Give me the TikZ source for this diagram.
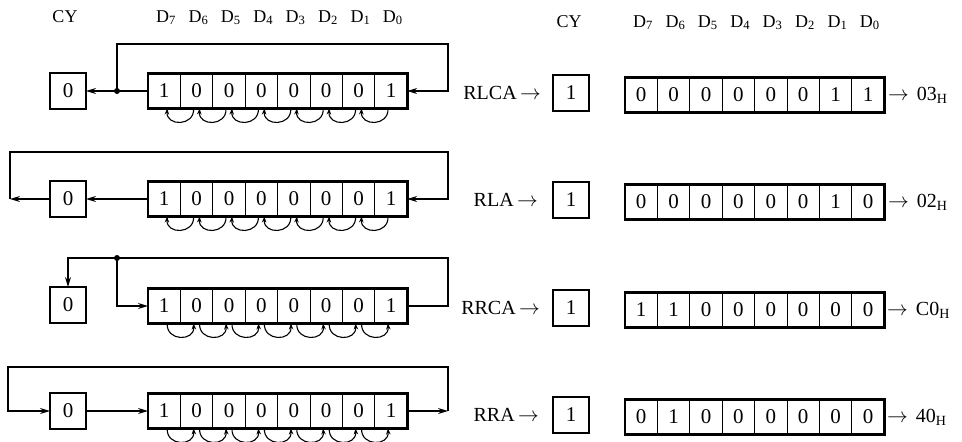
\documentclass[tikz,border=0pt]{standalone}
\usepackage{fontspec}
\setmainfont{Liberation Serif}
\usetikzlibrary{arrows.meta}
\tikzset{
  cell/.style={draw, line width=0.9pt, minimum width=32.4pt, minimum height=35pt,
    inner sep=0pt, outer sep=0pt, font=\fontsize{21}{21}\selectfont},
  regframe/.style={line width=2.6pt},
  cybox/.style={draw, line width=2.6pt, minimum width=36pt, minimum height=36pt,
    inner sep=0pt, outer sep=0pt, font=\fontsize{21}{21}\selectfont},
  conn/.style={line width=1.3pt},
  arr/.style={conn, -{Stealth[length=10pt,width=6pt]}},
  sarc/.style={line width=1.1pt, -{Stealth[length=6pt,width=4.5pt]}},
  hdr/.style={font=\fontsize{18}{18}\selectfont, anchor=base, inner sep=0pt},
  oplab/.style={font=\fontsize{20}{20}\selectfont, anchor=east, inner sep=0pt},
  outlab/.style={font=\fontsize{20}{20}\selectfont, anchor=west, inner sep=0pt},
  jdot/.style={circle, fill, inner sep=0pt, minimum size=6pt},
}
\newcommand\regrow[4]{%
  \foreach \b [count=\i from 0] in {#4} {
    \node[cell] (#1c\i) at ({#2+32.4*\i+16.2},#3) {\b};
  }
  \draw[regframe] (#1c0.north west) rectangle (#1c7.south east);
}
\newcommand\arcsleft[1]{%
  \foreach \k/\j in {1/0,2/1,3/2,4/3,5/4,6/5,7/6} {
    \draw[sarc] ([xshift=-3pt]#1c\k.south) .. controls +(1,18) and +(-1,18) .. ([xshift=3pt]#1c\j.south);
  }
}
\newcommand\arcsright[1]{%
  \foreach \k/\j in {1/0,2/1,3/2,4/3,5/4,6/5,7/6} {
    \draw[sarc] ([xshift=3pt]#1c\j.south) .. controls +(-1,18) and +(1,18) .. ([xshift=-3pt]#1c\k.south);
  }
}
\begin{document}
\begin{tikzpicture}[x=1pt,y=-1pt]
\useasboundingbox (0,0) rectangle (962,442);

% ---------- headers ----------
\node[hdr] (lcy) at (65,22) {CY};
\foreach \n [count=\i from 0] in {7,6,5,4,3,2,1,0} {
  \node[hdr] (lh\i) at ({148+32.4*\i+18},22) {D\textsubscript{\n}};
}
\node[hdr] (rcy) at (569,27) {CY};
\foreach \n [count=\i from 0] in {7,6,5,4,3,2,1,0} {
  \node[hdr] (rh\i) at ({625+32.4*\i+18},27) {D\textsubscript{\n}};
}

% ---------- left, row 1: RLCA ----------
\node[cybox] (L1y) at (68,91) {0};
\regrow{L1}{148}{91}{1,0,0,0,0,0,0,1}
\coordinate (j1) at (117,91);
\coordinate (t1) at (448,44);
\draw[arr] (L1c0.west) -- (L1y.east);
\draw[arr] (j1) |- (t1) |- (L1c7.east);
\node[jdot] (d1) at (j1) {};
\arcsleft{L1}

% ---------- left, row 2: RLA ----------
\node[cybox] (L2y) at (68,199) {0};
\regrow{L2}{148}{199}{1,0,0,0,0,0,0,1}
\coordinate (a2) at (10,199);
\coordinate (t2) at (448,152);
\draw[arr] (L2c0.west) -- (L2y.east);
\draw[arr] (L2y.west) -- (a2);
\draw[arr] (a2) |- (t2) |- (L2c7.east);
\arcsleft{L2}

% ---------- left, row 3: RRCA ----------
\node[cybox] (L3y) at (68,305) {0};
\regrow{L3}{148}{306}{1,0,0,0,0,0,0,1}
\coordinate (j3) at (117,258);
\coordinate (t3) at (448,258);
\draw[conn] (L3c7.east) -| (t3) -- (j3);
\draw[arr] (j3) -| (L3y.north);
\draw[arr] (j3) |- (L3c0.west);
\node[jdot] (d3) at (j3) {};
\arcsright{L3}

% ---------- left, row 4: RRA ----------
\node[cybox] (L4y) at (68,411) {0};
\regrow{L4}{148}{411}{1,0,0,0,0,0,0,1}
\coordinate (a4) at (448,411);
\coordinate (t4) at (8,367);
\draw[arr] (L4c7.east) -- (a4);
\draw[arr] (a4) |- (t4) |- (L4y.west);
\draw[arr] (L4y.east) -- (L4c0.west);
\arcsright{L4}

% ---------- right side results ----------
\node[oplab] (op1) at (541,93) {RLCA\,$\rightarrow$};
\node[cybox] (R1y) at (571,93) {1};
\regrow{R1}{625}{95}{0,0,0,0,0,0,1,1}
\node[outlab] (o1) at (888,95) {$\rightarrow$\hspace{8pt}03\textsubscript{H}};

\node[oplab] (op2) at (538,200) {RLA\,$\rightarrow$};
\node[cybox] (R2y) at (571,200) {1};
\regrow{R2}{625}{202}{0,0,0,0,0,0,1,0}
\node[outlab] (o2) at (888,202) {$\rightarrow$\hspace{8pt}02\textsubscript{H}};

\node[oplab] (op3) at (540,308) {RRCA\,$\rightarrow$};
\node[cybox] (R3y) at (571,308) {1};
\regrow{R3}{625}{310}{1,1,0,0,0,0,0,0}
\node[outlab] (o3) at (887,310) {$\rightarrow$\hspace{8pt}C0\textsubscript{H}};

\node[oplab] (op4) at (539,415) {RRA\,$\rightarrow$};
\node[cybox] (R4y) at (571,415) {1};
\regrow{R4}{625}{417}{0,1,0,0,0,0,0,0}
\node[outlab] (o4) at (887,417) {$\rightarrow$\hspace{8pt}40\textsubscript{H}};
\end{tikzpicture}
\end{document}
